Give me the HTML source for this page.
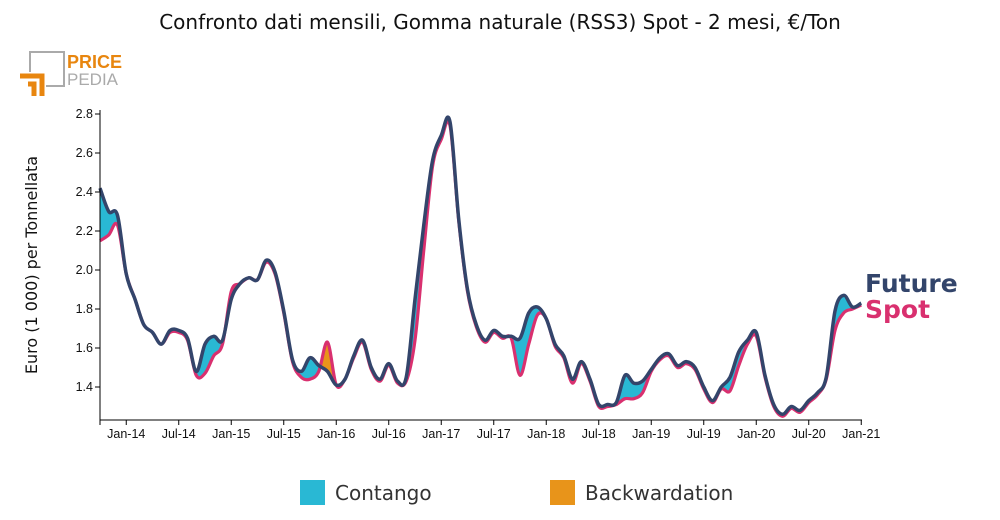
<!DOCTYPE html>
<html><head><meta charset="utf-8"><style>
body{margin:0;background:#fff;font-family:"Liberation Sans","DejaVu Sans",sans-serif}
svg{display:block}
</style></head><body>
<svg width="1000" height="520" viewBox="0 0 1000 520">
<text x="500" y="29" text-anchor="middle" font-size="20" fill="#111" font-family="DejaVu Sans, sans-serif">Confronto dati mensili, Gomma naturale (RSS3) Spot - 2 mesi, €/Ton</text>
<g>
<path d="M30,72 V52 H64 V86 H46" fill="none" stroke="#aaa" stroke-width="2"/>
<path d="M20,76 H42 V96 M28,84 H34 V96" fill="none" stroke="#e8860f" stroke-width="5"/>
<text x="67" y="68" font-size="18" font-weight="bold" fill="#e8860f">PRICE</text>
<text x="67" y="85" font-size="17" fill="#aaa">PEDIA</text>
</g>
<g id="plot"></g>
<text transform="translate(37,265) rotate(-90)" text-anchor="middle" font-size="16" fill="#111" font-family="DejaVu Sans, sans-serif">Euro (1 000) per Tonnellata</text>
<text x="865" y="292" font-size="25" font-weight="bold" fill="#33456b" font-family="DejaVu Sans, sans-serif">Future</text>
<text x="865" y="318" font-size="25" font-weight="bold" fill="#d9306f" font-family="DejaVu Sans, sans-serif">Spot</text>
<rect x="300" y="480" width="25" height="25" fill="#29b8d4"/>
<text x="335" y="500" font-size="20" fill="#333" font-family="DejaVu Sans, sans-serif">Contango</text>
<rect x="550" y="480" width="25" height="25" fill="#e8941a"/>
<text x="585" y="500" font-size="20" fill="#333" font-family="DejaVu Sans, sans-serif">Backwardation</text>
</svg>
<script>
const future=[2.42,2.30,2.28,1.98,1.85,1.72,1.68,1.62,1.69,1.69,1.65,1.48,1.62,1.66,1.64,1.85,1.93,1.96,1.95,2.05,1.99,1.79,1.54,1.48,1.55,1.51,1.48,1.41,1.44,1.56,1.64,1.50,1.44,1.52,1.43,1.45,1.85,2.23,2.56,2.69,2.76,2.26,1.90,1.72,1.64,1.69,1.66,1.66,1.65,1.78,1.81,1.75,1.62,1.56,1.44,1.53,1.44,1.31,1.31,1.32,1.46,1.42,1.43,1.49,1.55,1.57,1.51,1.53,1.50,1.40,1.33,1.40,1.45,1.58,1.64,1.68,1.46,1.31,1.26,1.30,1.28,1.33,1.37,1.45,1.79,1.87,1.81,1.83];
const spot=[2.15,2.18,2.23,1.98,1.85,1.72,1.68,1.62,1.68,1.68,1.64,1.46,1.47,1.56,1.62,1.89,1.93,1.96,1.95,2.04,1.98,1.78,1.53,1.45,1.44,1.48,1.63,1.41,1.44,1.55,1.63,1.49,1.43,1.51,1.42,1.43,1.64,2.10,2.53,2.67,2.74,2.25,1.89,1.71,1.63,1.68,1.65,1.65,1.46,1.62,1.77,1.75,1.61,1.55,1.42,1.52,1.43,1.30,1.30,1.31,1.34,1.34,1.37,1.48,1.54,1.56,1.50,1.52,1.49,1.39,1.32,1.39,1.38,1.51,1.62,1.66,1.45,1.30,1.25,1.29,1.27,1.32,1.36,1.44,1.69,1.78,1.80,1.82];
const xTickLabels=["Jan-14","Jul-14","Jan-15","Jul-15","Jan-16","Jul-16","Jan-17","Jul-17","Jan-18","Jul-18","Jan-19","Jul-19","Jan-20","Jul-20","Jan-21"];
const yTicks=[1.4,1.6,1.8,2.0,2.2,2.4,2.6,2.8];
const NS="http://www.w3.org/2000/svg";
const X=i=>100+i*8.75;            // i=0 -> Oct-13
const Y=v=>387-(v-1.4)*195;
const g=document.getElementById('plot');
function el(t,a,p){const e=document.createElementNS(NS,t);for(const k in a)e.setAttribute(k,a[k]);(p||g).appendChild(e);return e;}
function curve(arr){const p=arr.map((v,i)=>[X(i),Y(v)]);let d="M"+p[0][0]+","+p[0][1];
for(let i=0;i<p.length-1;i++){const p0=p[i-1]||p[i],p1=p[i],p2=p[i+1],p3=p[i+2]||p2;
d+=" C"+(p1[0]+(p2[0]-p0[0])/6)+","+(p1[1]+(p2[1]-p0[1])/6)+" "+(p2[0]-(p3[0]-p1[0])/6)+","+(p2[1]-(p3[1]-p1[1])/6)+" "+p2[0]+","+p2[1];}
return d;}
const fD=curve(future),sD=curve(spot);
const x0=X(0),x1=X(future.length-1);
const defs=el('defs',{});
const c1=el('clipPath',{id:'aboveSpot'},defs);el('path',{d:sD+" L"+x1+",0 L"+x0+",0 Z"},c1);
const c2=el('clipPath',{id:'aboveFut'},defs);el('path',{d:fD+" L"+x1+",0 L"+x0+",0 Z"},c2);
let a=el('path',{d:fD+" L"+x1+",520 L"+x0+",520 Z",fill:'#29b8d4','clip-path':'url(#aboveSpot)'});

a=el('path',{d:sD+" L"+x1+",520 L"+x0+",520 Z",fill:'#e8941a','clip-path':'url(#aboveFut)'});

let l=el('path',{d:sD,fill:'none',stroke:'#d9306f','stroke-width':3.2,'stroke-linejoin':'round'});

l=el('path',{d:fD,fill:'none',stroke:'#33456b','stroke-width':3.5,'stroke-linejoin':'round'});

let ax=el('path',{d:"M100,110 V420 H862",fill:'none',stroke:'#000','stroke-width':1});

yTicks.forEach(v=>{el('line',{x1:95,x2:100,y1:Y(v),y2:Y(v),stroke:'#000'});
const t=el('text',{x:93,y:Y(v)+4,'text-anchor':'end','font-size':12.5,fill:'#111'});t.textContent=v.toFixed(1);
});
el('line',{x1:100,x2:100,y1:420,y2:425,stroke:'#000'});
xTickLabels.forEach((s,k)=>{const x=X(3+k*6);el('line',{x1:x,x2:x,y1:420,y2:425,stroke:'#000'});
const t=el('text',{x:x,y:438,'text-anchor':'middle','font-size':12.5,fill:'#111'});t.textContent=s;
});
</script>
</body></html>
